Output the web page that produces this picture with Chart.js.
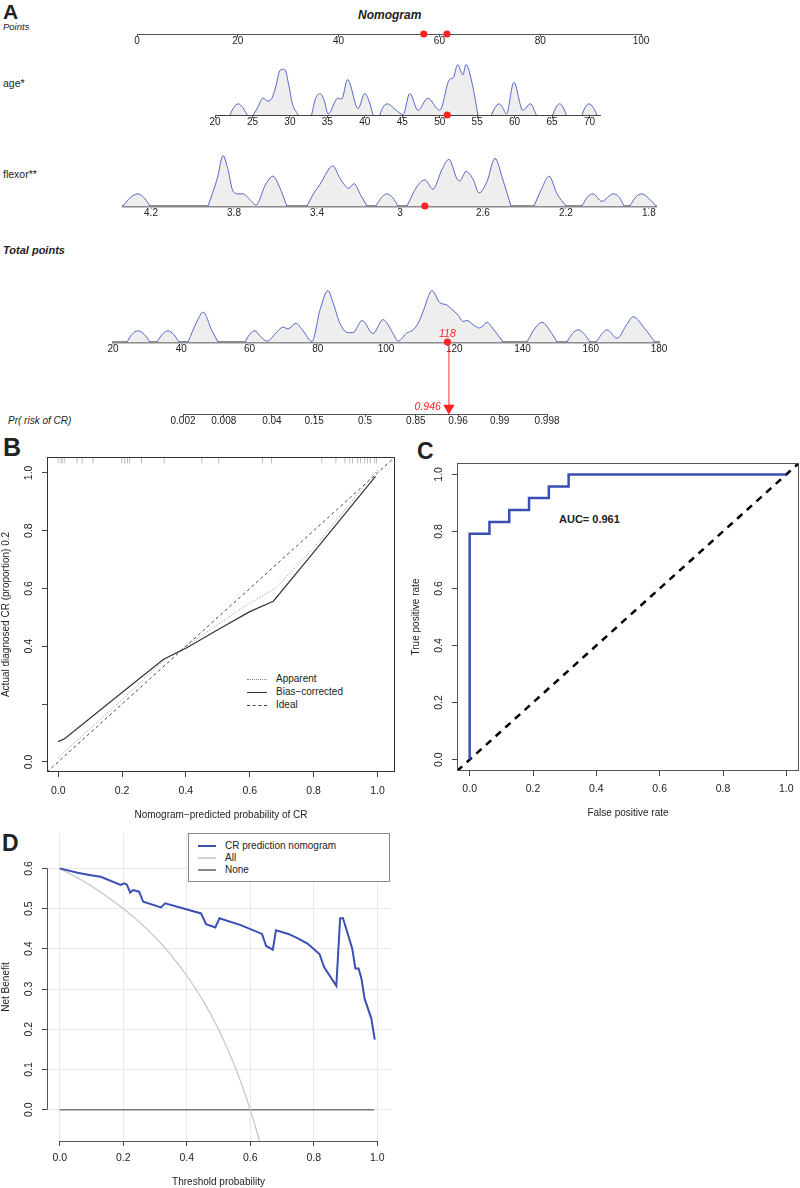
<!DOCTYPE html>
<html>
<head>
<meta charset="utf-8">
<script src="https://cdn.jsdelivr.net/npm/chart.js@4.4.0/dist/chart.umd.min.js"></script>
<style>
  body { margin: 0; background: #fff; width: 800px; height: 1188px; position: relative; overflow: hidden;
         font-family: "Liberation Sans", Arial, Helvetica, sans-serif; color: #222; }
  canvas { position: absolute; }
  .t { position: absolute; white-space: nowrap; line-height: 1; }
  .bi { font-weight: bold; font-style: italic; }
  .it { font-style: italic; }
  .lg { position: absolute; height: 0; }
</style>
</head>
<body>
<div class="t" style="left:3px;top:1px;font-size:21px;font-weight:bold">A</div>
<div class="t bi" style="left:358px;top:9px;font-size:12px">Nomogram</div>
<div class="t it" style="left:3px;top:22px;font-size:9.5px">Points</div>
<div class="t" style="left:3px;top:78px;font-size:10.5px">age*</div>
<div class="t" style="left:3px;top:169px;font-size:10.5px">flexor**</div>
<div class="t bi" style="left:3px;top:245px;font-size:11px">Total points</div>
<div class="t it" style="left:8px;top:416px;font-size:10px">Pr( risk of CR)</div>

<div class="t" style="left:3px;top:435px;font-size:25px;font-weight:bold">B</div>
<div class="t" style="left:417px;top:440px;font-size:23px;font-weight:bold">C</div>
<div class="t" style="left:2px;top:832px;font-size:23px;font-weight:bold">D</div>

<div class="t" style="left:559px;top:514px;font-size:11px;font-weight:bold">AUC= 0.961</div>

<!-- calibration legend -->
<div class="lg" style="left:247px;top:679px;width:20px;border-top:1px dotted #888"></div>
<div class="lg" style="left:247px;top:692px;width:20px;border-top:1px solid #333"></div>
<div class="lg" style="left:247px;top:705px;width:20px;border-top:1px dashed #444"></div>
<div class="t" style="left:276px;top:674px;font-size:10px">Apparent</div>
<div class="t" style="left:276px;top:687px;font-size:10px">Bias&minus;corrected</div>
<div class="t" style="left:276px;top:700px;font-size:10px">Ideal</div>

<!-- decision curve legend -->
<div style="position:absolute;left:188px;top:833px;width:200px;height:47px;border:1px solid #888;background:#fff;z-index:2">
  <div class="lg" style="left:9px;top:11px;width:18px;border-top:2px solid #3b4fb4"></div>
  <div class="lg" style="left:9px;top:23px;width:18px;border-top:2px solid #d4d4d4"></div>
  <div class="lg" style="left:9px;top:35px;width:18px;border-top:2px solid #888"></div>
  <div class="t" style="left:36px;top:7px;font-size:10px">CR prediction nomogram</div>
  <div class="t" style="left:36px;top:19px;font-size:10px">All</div>
  <div class="t" style="left:36px;top:31px;font-size:10px">None</div>
</div>

<script>
Chart.defaults.font.family = '"Liberation Sans", Arial, Helvetica, sans-serif';
Chart.defaults.color = '#222';

// ---- nomogram (A) ----
const pointsTicks = [0, 20, 40, 60, 80, 100];
const ageTicks = [20, 25, 30, 35, 40, 45, 50, 55, 60, 65, 70];
const flexorTicks = [4.2, 3.8, 3.4, 3, 2.6, 2.2, 1.8];
const totalTicks = [20, 40, 60, 80, 100, 120, 140, 160, 180];
const prTicks = [0.002, 0.008, 0.04, 0.15, 0.5, 0.85, 0.96, 0.99, 0.998];

// density outlines (relative height), null = gap between bumps
const ageVal = [22, 22.5, 23.1, 23.7, 24.3, 24.6,
  25.1, 25.7, 26.4, 27.1, 27.6, 28.1, 28.7, 29.3, 29.9, 30.3, 31.1, 32,
  32.9, 33.4, 34, 34.6, 35.1, 36.4, 36.9, 37.7, 39.1, 40, 40.6, 41.1, 41.5,
  42, 42.4, 43, 44.2, 45.1, 46, 47.1, 48.4, 50, 51.3, 51.8, 52.4, 53.1, 53.5, 54.3, 55.1, 56,
  56.9, 57.4, 57.9, 58.4, 58.9, 59.9, 61.1, 62.1, 62.9, 64,
  65.1, 65.5, 66, 66.5, 66.9, 68,
  69, 69.4, 69.9, 70.5, 71];
const ageDens = [0, 8, 12, 8, 0, null,
  0, 8, 18, 15, 18, 30, 48, 49, 30, 13, 0, null,
  0, 17, 23, 15, 1, 18, 17, 38, 7, 23, 14, 0, null,
  0, 8, 12, 5, 0.5, 23, 5, 18, 5, 38, 40, 54, 43, 54, 35, 0, null,
  0, 8, 12, 8, 1, 35, 5, 12, 0, null,
  0, 8, 12, 8, 0, null,
  0, 8, 12, 8, 0];

const flexorVal = [4.335, 4.3, 4.263, 4.23, 4.205, 4.1,
  3.925, 3.88, 3.853, 3.83, 3.805, 3.78, 3.757, 3.72, 3.694, 3.65, 3.612, 3.58, 3.545, 3.5,
  3.448, 3.42, 3.386, 3.323, 3.29, 3.246, 3.222, 3.19, 3.159, 3.14,
  3.116, 3.09, 3.063, 3.035, 3.01, 2.99,
  2.966, 2.918, 2.88, 2.841, 2.798, 2.764, 2.725, 2.711, 2.682, 2.648, 2.619, 2.581, 2.542, 2.504, 2.465, 2.4,
  2.354, 2.316, 2.282, 2.243, 2.2, 2.16,
  2.123, 2.095, 2.07, 2.027, 1.973, 1.945, 1.92, 1.9,
  1.892, 1.862, 1.834, 1.8, 1.766];
const flexorDens = [0, 9, 13, 8, 0, null,
  0, 30, 54, 40, 16, 13, 13, 6, 1, 22, 32, 20, 0, null,
  0, 12, 23, 43, 30, 19, 24, 12, 0, null,
  0, 9, 13, 9, 0, null,
  0, 21, 28, 18, 39, 50, 29, 27, 37, 29, 14, 26, 51, 28, 0, null,
  0, 19, 32, 13, 0, null,
  0, 10, 13, 5, 13, 10, 0, null,
  0, 10, 13, 8, 0];

const totalVal = [24.1, 25.5, 27.3, 29.2, 30.8, 32,
  32.9, 34.4, 36.1, 37.8, 39.3, 40.5,
  42, 44.6, 46.4, 49, 50.8, 55,
  58.7, 60, 61.6, 63.2, 65.1, 68.1, 69.8, 71.3, 73.6, 75.7, 78.3, 80.7, 83, 84.5, 86.5, 88.9, 90.3, 93, 96.2, 99.1, 102.1, 103.5,
  106.2, 107.6, 109.4, 110.8, 113.5, 115.8, 117.6, 119.3, 121.1, 122.6, 123.7, 126.1, 127.5, 129.6, 131.4, 134.3, 138,
  141.3, 143.7, 145.7, 148.6, 150.1, 151.5,
  153, 154.6, 156.3, 158, 159.8, 160.5,
  161.5, 164.8, 167.7, 170.6, 172.4, 175.9, 178.8];
const totalDens = [0, 8, 12, 8, 0, null,
  0, 8, 12, 8, 0, null,
  0, 22, 32, 12, 0, null,
  0, 8, 12, 6, 1, 11, 16, 14, 20, 12, 0.5, 35, 55, 42, 20, 10, 10, 23, 9, 24, 9, 1,
  10, 12, 20, 32, 55, 42, 40, 35, 29, 22, 23, 17, 15, 21, 14, 0, null,
  0, 15, 21, 9, 0, null,
  0, 9, 13, 9, 0, null,
  0, 13, 4, 19, 27, 14, 0];

// patient shown in red
const agePoints = 61.5, flexorPoints = 56.9;
const patientAge = 51, patientFlexor = 2.88;
const patientTotal = 118, patientProb = 0.946;

// ---- calibration (B) ----
const biasPred = [0.0, 0.02, 0.2, 0.33, 0.4, 0.5, 0.6, 0.674, 0.8, 0.994];
const biasObs = [0.07, 0.08, 0.24, 0.355, 0.393, 0.457, 0.52, 0.556, 0.725, 0.988];
const appPred = [0.0, 0.1, 0.2, 0.33, 0.4, 0.5, 0.6, 0.68, 0.8, 1.0];
const appObs = [0.015, 0.115, 0.215, 0.35, 0.4, 0.475, 0.55, 0.6, 0.74, 1.01];
const calRug = [0, 0.009, 0.012, 0.019, 0.059, 0.075, 0.109, 0.199, 0.208, 0.217, 0.224, 0.261, 0.332,
  0.45, 0.503, 0.64, 0.668, 0.826, 0.87, 0.898, 0.913, 0.922, 0.938, 0.947, 0.96, 0.969, 0.978, 0.991, 0.997];
const unitTicks = [0, 0.2, 0.4, 0.6, 0.8, 1.0];

// ---- ROC (C) ----
const rocFpr = [0, 0, 0.0625, 0.0625, 0.125, 0.125, 0.1875, 0.1875, 0.25, 0.25, 0.3125, 0.3125, 1];
const rocTpr = [0, 0.792, 0.792, 0.833, 0.833, 0.875, 0.875, 0.917, 0.917, 0.958, 0.958, 1, 1];

// ---- decision curve (D) ----
const dcaThr = [0, 0.056, 0.098, 0.129, 0.192, 0.203, 0.211, 0.222, 0.231, 0.25, 0.263, 0.319, 0.332, 0.445, 0.461,
  0.49, 0.503, 0.57, 0.637, 0.65, 0.671, 0.681, 0.72, 0.75, 0.78, 0.818, 0.832, 0.871, 0.883, 0.892, 0.921, 0.931, 0.941, 0.95, 0.96, 0.981, 0.992];
const dcaNB = [0.6, 0.589, 0.583, 0.579, 0.559, 0.563, 0.56, 0.54, 0.546, 0.542, 0.517, 0.503, 0.513, 0.488, 0.461,
  0.453, 0.476, 0.459, 0.437, 0.407, 0.398, 0.446, 0.437, 0.426, 0.413, 0.387, 0.355, 0.308, 0.476, 0.476, 0.401, 0.351, 0.351, 0.326, 0.276, 0.227, 0.174];
const allThr = [0, 0.05, 0.1, 0.15, 0.2, 0.25, 0.3, 0.35, 0.4, 0.45, 0.5, 0.55, 0.6, 0.63];
const allNB = [0.6, 0.579, 0.556, 0.529, 0.5, 0.467, 0.429, 0.385, 0.333, 0.273, 0.2, 0.111, 0.0, -0.08];
const noneThr = [0, 0.99];
const noneNB = [0, 0];
const dcaXTicks = [0, 0.2, 0.4, 0.6, 0.8, 1.0];
const dcaYTicks = [0, 0.1, 0.2, 0.3, 0.4, 0.5, 0.6];

const logit = p => Math.log(p / (1 - p));
const pts = (xs, ys) => xs.map((v, i) => ({ x: v, y: ys[i] }));

function makeCanvas(left, top, w, h) {
  const c = document.createElement('canvas');
  c.width = w; c.height = h;
  c.style.left = left + 'px'; c.style.top = top + 'px';
  c.style.width = w + 'px'; c.style.height = h + 'px';
  document.body.appendChild(c);
  return c;
}

// small italic red labels tied to data values
const marksPlugin = {
  id: 'marks',
  afterDatasetsDraw(chart, args, opts) {
    const ctx = chart.ctx, xs = chart.scales.x, ys = chart.scales.y;
    (opts.items || []).forEach(m => {
      ctx.save();
      ctx.font = 'italic 10.5px "Liberation Sans", Arial, sans-serif';
      ctx.fillStyle = '#f22';
      ctx.textAlign = m.align;
      ctx.textBaseline = 'middle';
      ctx.fillText(m.text, xs.getPixelForValue(m.x) + m.dx, ys.getPixelForValue(m.y) + m.dy);
      ctx.restore();
    });
  }
};

const framePlugin = {
  id: 'frame',
  afterDatasetsDraw(chart, args, opts) {
    const a = chart.chartArea, ctx = chart.ctx;
    ctx.save();
    ctx.strokeStyle = opts.color || '#444';
    ctx.lineWidth = 1;
    ctx.strokeRect(Math.round(a.left) + 0.5, Math.round(a.top) + 0.5,
      Math.round(a.right - a.left) - 1, Math.round(a.bottom - a.top) - 1);
    ctx.restore();
  }
};

// R style axis lines that only run between the outer ticks
const dcaAxesPlugin = {
  id: 'dcaAxes',
  afterDatasetsDraw(chart) {
    const { ctx, chartArea: a, scales: { x, y } } = chart;
    ctx.save();
    ctx.strokeStyle = '#555';
    ctx.lineWidth = 1;
    ctx.beginPath();
    ctx.moveTo(x.getPixelForValue(dcaXTicks[0]), Math.round(a.bottom) + 0.5);
    ctx.lineTo(x.getPixelForValue(dcaXTicks[dcaXTicks.length - 1]), Math.round(a.bottom) + 0.5);
    ctx.moveTo(Math.round(a.left) + 0.5, y.getPixelForValue(dcaYTicks[0]));
    ctx.lineTo(Math.round(a.left) + 0.5, y.getPixelForValue(dcaYTicks[dcaYTicks.length - 1]));
    ctx.stroke();
    ctx.restore();
  }
};

function density(xs, ys) {
  return { data: pts(xs, ys), borderColor: '#5567c8', borderWidth: 1, backgroundColor: '#eeeeee',
    fill: 'origin', pointRadius: 0, cubicInterpolationMode: 'monotone', spanGaps: false };
}
function dots(xs) {
  return { data: xs.map(v => ({ x: v, y: 0 })), showLine: false, pointRadius: 3.6,
    pointBackgroundColor: '#ff2424', pointBorderWidth: 0, clip: false };
}

function rowChart(c) {
  const pad = 26, axisH = 18;
  const cv = makeCanvas(c.left - pad, c.base - c.areaH, c.width + 2 * pad, c.areaH + axisH);
  return new Chart(cv, {
    type: 'line',
    data: { datasets: c.datasets },
    options: {
      responsive: false, animation: false, events: [],
      layout: { padding: { left: pad, right: pad, top: 0, bottom: 0 } },
      plugins: { legend: { display: false }, tooltip: { enabled: false }, marks: { items: c.marks || [] } },
      scales: {
        x: {
          type: 'linear', min: c.min, max: c.max, reverse: !!c.reverse,
          afterBuildTicks: s => { s.ticks = c.ticks.map(v => ({ value: v })); },
          afterFit: s => { s.height = axisH; s.paddingLeft = 0; s.paddingRight = 0; },
          ticks: { callback: c.fmt, padding: -2, autoSkip: false, maxRotation: 0, font: { size: 10 }, color: '#222' },
          grid: { display: true, drawOnChartArea: false, drawTicks: true, tickLength: 3, tickColor: c.axis, color: c.axis },
          border: { display: true, color: c.axis, width: c.axisW }
        },
        y: { display: false, min: 0, max: c.yMax || c.areaH }
      }
    },
    plugins: [marksPlugin]
  });
}

rowChart({ left: 137, width: 504, base: 34, areaH: 10, min: 0, max: 100, ticks: pointsTicks,
  fmt: v => String(v), axis: '#555', axisW: 1,
  datasets: [dots([flexorPoints, agePoints])] });

rowChart({ left: 215, width: 385, base: 115, areaH: 60, min: 20, max: 71.4, ticks: ageTicks,
  fmt: v => String(v), axis: '#444', axisW: 1,
  datasets: [dots([patientAge]), density(ageVal, ageDens)] });

rowChart({ left: 123, width: 533, base: 206, areaH: 60, min: 1.766, max: 4.335, reverse: true, ticks: flexorTicks,
  fmt: v => String(+v.toFixed(1)), axis: '#8c8c8c', axisW: 2.5,
  datasets: [dots([patientFlexor]), density(flexorVal, flexorDens)] });

rowChart({ left: 113, width: 546, base: 342, areaH: 60, min: 20, max: 180, ticks: totalTicks,
  fmt: v => String(v), axis: '#8c8c8c', axisW: 2.5,
  marks: [{ x: patientTotal, y: 0, dx: 0, dy: -8, align: 'center', text: String(patientTotal) }],
  datasets: [dots([patientTotal]), density(totalVal, totalDens)] });

rowChart({ left: 183, width: 364, base: 414, areaH: 72, yMax: 1, min: logit(prTicks[0]), max: logit(prTicks[prTicks.length - 1]),
  ticks: prTicks.map(logit), fmt: (v, i) => String(prTicks[i]), axis: '#555', axisW: 1,
  marks: [{ x: logit(patientProb), y: 0.09, dx: -8, dy: -1, align: 'right', text: String(patientProb) }],
  datasets: [{
    data: [{ x: logit(patientProb), y: 1 }, { x: logit(patientProb), y: 0.09 }],
    borderColor: 'rgba(255,40,40,0.65)', borderWidth: 1.5, clip: false,
    pointRadius: [0, 5], pointStyle: 'triangle', rotation: 180,
    pointBackgroundColor: '#ff2020', pointBorderColor: '#ff2020'
  }] });

// shared R-like axis config
function rAxis(o) {
  return {
    type: 'linear', min: o.min, max: o.max,
    afterBuildTicks: s => { s.ticks = o.ticks.map(v => ({ value: v })); },
    afterFit: s => {
      if (o.h) s.height = o.h;
      if (o.w) s.width = o.w;
      s.paddingLeft = 0; s.paddingRight = 0; s.paddingTop = 0; s.paddingBottom = 0;
    },
    ticks: { callback: o.fmt || (v => v.toFixed(1)), padding: o.pad, autoSkip: false, font: { size: 10.5 }, color: '#222',
      minRotation: o.rot || 0, maxRotation: o.rot || 0, crossAlign: o.rot ? 'center' : 'near' },
    grid: { display: true, drawOnChartArea: !!o.grid, color: '#e9e9e9', tickLength: 5, tickColor: '#444', drawTicks: true },
    border: { display: false },
    title: { display: true, text: o.title, font: { size: 10 }, color: '#222', padding: o.tpad }
  };
}

// B: calibration
new Chart(makeCanvas(0, 430, 400, 394), {
  type: 'line',
  data: {
    datasets: [
      { data: calRug.map(v => ({ x: v, y: 1.043 })), showLine: false, pointStyle: 'line', rotation: 90,
        pointRadius: 3, pointBorderColor: '#bdbdbd', pointBorderWidth: 1 },
      { data: pts(biasPred, biasObs), borderColor: '#333', borderWidth: 1.2, pointRadius: 0, tension: 0 },
      { data: pts(appPred, appObs), borderColor: '#888', borderWidth: 1, borderDash: [1, 2], pointRadius: 0, tension: 0 },
      { data: [{ x: -0.035, y: -0.035 }, { x: 1.055, y: 1.055 }], borderColor: '#444', borderWidth: 1,
        borderDash: [3, 3], pointRadius: 0 }
    ]
  },
  options: {
    responsive: false, animation: false, events: [],
    layout: { padding: { left: 0, top: 27, right: 2, bottom: 0 } },
    plugins: { legend: { display: false }, tooltip: { enabled: false }, frame: { color: '#333' } },
    scales: {
      x: rAxis({ min: -0.035, max: 1.055, ticks: unitTicks, h: 52, pad: 7.5,
        title: 'Nomogram\u2212predicted probability of CR', tpad: { top: 0, bottom: 3 } }),
      y: rAxis({ min: -0.035, max: 1.055, ticks: unitTicks, w: 47, pad: 5.5, rot: 90,
        fmt: v => (Math.abs(v - 0.2) < 1e-9 ? '' : v.toFixed(1)),
        title: 'Actual diagnosed CR (proportion) 0.2', tpad: { top: 0, bottom: 0 } })
    }
  },
  plugins: [framePlugin]
});

// C: ROC
new Chart(makeCanvas(400, 430, 400, 391), {
  type: 'line',
  data: {
    datasets: [
      { data: pts(rocFpr, rocTpr), borderColor: '#3a4fb3', borderWidth: 2.5, pointRadius: 0, tension: 0 },
      { data: [{ x: -0.04, y: -0.04 }, { x: 1.04, y: 1.04 }], borderColor: '#000', borderWidth: 2.5,
        borderDash: [7, 6], pointRadius: 0 }
    ]
  },
  options: {
    responsive: false, animation: false, events: [],
    layout: { padding: { left: 0, top: 33, right: 1, bottom: 0 } },
    plugins: { legend: { display: false }, tooltip: { enabled: false }, frame: { color: '#555' } },
    scales: {
      x: rAxis({ min: -0.04, max: 1.04, ticks: unitTicks, h: 50, pad: 6.5,
        title: 'False positive rate', tpad: { top: 0, bottom: 2 } }),
      y: rAxis({ min: -0.04, max: 1.04, ticks: unitTicks, w: 57, pad: 5.5, rot: 90,
        title: 'True positive rate', tpad: { top: 10, bottom: 0 } })
    }
  },
  plugins: [framePlugin]
});

// D: decision curve
new Chart(makeCanvas(0, 800, 400, 388), {
  type: 'line',
  data: {
    datasets: [
      { data: pts(dcaThr, dcaNB), borderColor: '#3b4fb4', borderWidth: 2, pointRadius: 0, tension: 0 },
      { data: pts(allThr, allNB), borderColor: '#c4c4c4', borderWidth: 1.2, pointRadius: 0, cubicInterpolationMode: 'monotone' },
      { data: pts(noneThr, noneNB), borderColor: '#777', borderWidth: 1.5, pointRadius: 0 }
    ]
  },
  options: {
    responsive: false, animation: false, events: [],
    layout: { padding: { left: 0, top: 33, right: 10, bottom: 0 } },
    plugins: { legend: { display: false }, tooltip: { enabled: false } },
    scales: {
      x: rAxis({ min: -0.04, max: 1.04, ticks: dcaXTicks, h: 47, pad: 6, grid: true,
        title: 'Threshold probability', tpad: { top: 0, bottom: 0 } }),
      y: rAxis({ min: -0.078, max: 0.688, ticks: dcaYTicks, w: 47, pad: 5.5, rot: 90, grid: true,
        title: 'Net Benefit', tpad: { top: 0, bottom: 0 } })
    }
  },
  plugins: [dcaAxesPlugin]
});
</script>
</body>
</html>
